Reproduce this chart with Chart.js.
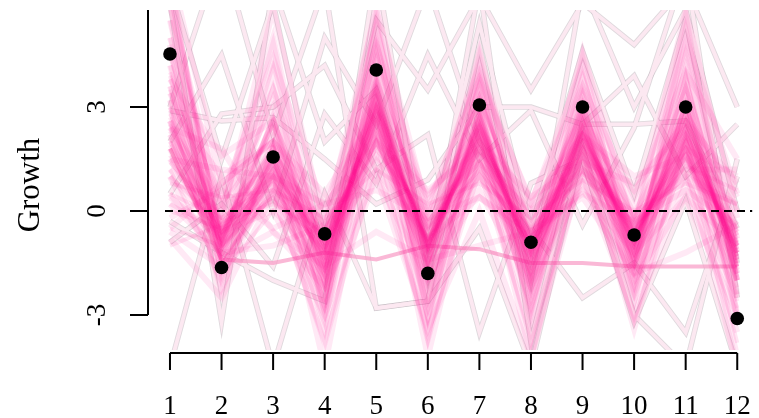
<!DOCTYPE html>
<html>
<head>
<meta charset="utf-8">
<script src="https://cdn.jsdelivr.net/npm/chart.js@4.4.0/dist/chart.umd.min.js"></script>
<style>
  html, body { margin: 0; padding: 0; background: #fff; }
  #growthChart { display: block; }
</style>
</head>
<body>
<canvas id="growthChart" width="759" height="418"></canvas>
<script>
// --- Datos del gráfico ---
const steps = [1, 2, 3, 4, 5, 6, 7, 8, 9, 10, 11, 12];
const xTickLabels = ['1', '2', '3', '4', '5', '6', '7', '8', '9', '10', '11', '12'];
const yTickValues = [-3, 0, 3];
const yTickLabels = ['-3', '0', '3'];
const yAxisTitle = 'Growth';

// Puntos observados (negros)
const observed = [4.53, -1.63, 1.56, -0.66, 4.07, -1.80, 3.06, -0.90, 3.00, -0.69, 3.00, -3.10];

// Trayectorias simuladas que forman el núcleo oscuro de la banda
const coreDraws = [
    [2.5, -0.8, 1.2, -1.5, 3.0, -1.0, 2.4, -1.2, 2.2, -0.9, 2.5, -1.4],
    [1.8, -0.6, 1.5, -1.0, 2.8, -0.8, 2.0, -1.0, 2.6, -0.7, 2.0, -1.2],
    [3.5, -1.0, 0.8, -2.0, 3.4, -1.5, 2.8, -1.6, 2.4, -1.2, 3.0, -1.6],
    [1.0, -0.4, 1.8, -0.8, 2.4, -0.6, 1.8, -0.8, 1.8, -0.5, 1.6, -0.8],
    [4.5, -1.2, 1.0, -2.6, 4.0, -1.8, 3.0, -1.9, 2.8, -1.4, 3.4, -2.0],
    [0.5, -0.2, 1.0, -0.5, 1.8, -0.3, 1.4, -0.5, 1.3, -0.4, 1.2, -0.5],
    [6.5, -0.9, 2.0, -1.8, 3.6, -1.2, 2.6, -1.4, 2.4, -1.0, 2.8, -1.5],
    [2.2, -1.4, 0.6, -1.2, 2.6, -2.2, 1.8, -1.2, 2.0, -1.6, 2.2, -1.0],
    [3.0, -0.7, 2.5, -3.0, 4.6, -1.1, 3.4, -1.0, 3.0, -0.8, 3.6, -2.2],
    [0.0, -0.5, 0.4, -1.1, 2.0, -0.9, 1.6, -1.6, 1.6, -1.1, 1.8, -1.3],
    [5.5, -1.6, 1.4, -1.6, 3.2, -2.6, 2.2, -2.4, 2.2, -1.8, 2.4, -2.8],
    [1.5, -0.9, 3.3, -2.2, 5.5, -1.4, 4.0, -1.3, 3.6, -1.0, 4.2, -1.6],
    [2.8, -0.3, 0.2, -0.6, 2.2, -0.5, 1.2, -0.9, 1.5, -0.6, 1.4, -0.9],
    [7.0, -2.0, 1.6, -3.5, 3.8, -3.2, 2.4, -3.0, 2.6, -2.4, 3.2, -3.2],
    [-0.5, -1.0, 1.2, -0.9, 2.6, -0.7, 2.2, -0.7, 2.0, -0.6, 1.8, -0.6],
    [3.8, -0.5, 1.8, -1.4, 3.0, -0.4, 2.8, -1.8, 2.2, -0.5, 2.6, -1.2],
    [2.0, -1.1, 0.9, -2.8, 2.2, -1.6, 1.4, -1.1, 1.2, -1.3, 1.6, -1.8],
    [4.0, 0.2, 2.2, -1.0, 3.8, -0.2, 3.2, -0.4, 2.8, -0.2, 3.0, -0.4],
    [1.2, -1.8, 0.0, -1.7, 2.8, -1.9, 2.0, -2.0, 2.4, -2.0, 2.0, -2.4],
    [6.2, -0.8, 4.2, -1.2, 4.8, -1.0, 3.6, -1.2, 3.4, -1.2, 4.6, -1.0],
    [2.4, -0.6, 1.0, -1.9, 2.6, -1.3, 2.5, -1.5, 1.9, -0.9, 2.3, -1.5],
    [3.2, -1.3, 1.3, -1.3, 3.3, -1.1, 2.1, -1.3, 2.5, -1.4, 2.7, -1.1],
    [0.8, 0.4, 0.6, -0.2, 1.2, 0.2, 0.8, -0.2, 0.9, 0.0, 0.8, 0.2],
    [5.0, -1.5, 2.8, -2.4, 3.6, -2.8, 3.0, -2.6, 2.0, -1.6, 2.6, -2.6],
    [1.6, -0.8, 2.0, -1.6, 3.0, -1.0, 2.3, -0.9, 2.3, -1.0, 2.2, -0.7],
    [2.6, -1.0, 0.4, -3.8, 2.0, -3.8, 1.6, -3.8, 1.4, -3.2, 2.0, -3.8],
    [3.4, -0.6, 1.6, -1.1, 2.9, -0.9, 2.6, -1.1, 2.3, -0.8, 2.4, -1.3],
    [1.4, -0.2, 0.8, -0.8, 2.0, -1.2, 1.0, -1.4, 1.6, -0.4, 1.0, -2.0],
    [4.2, -1.1, 3.6, -1.4, 5.0, -1.6, 3.8, -1.8, 4.0, -1.2, 3.8, -1.4],
    [2.1, -0.9, 1.1, -1.3, 2.7, -0.9, 2.1, -1.1, 2.1, -0.8, 2.1, -1.1],
    [2.3, -0.7, 1.4, -1.2, 2.9, -1.1, 2.3, -1.3, 2.0, -1.0, 2.4, -1.3],
    [1.9, -1.0, 1.0, -1.4, 3.1, -1.0, 2.5, -1.2, 2.2, -0.9, 2.6, -1.6],
    [2.7, -0.8, 1.3, -1.0, 2.5, -0.8, 1.9, -1.0, 1.8, -0.7, 2.0, -1.0],
    [3.6, -1.4, 0.5, -2.2, 3.5, -1.3, 2.7, -2.2, 2.6, -1.5, 3.1, -1.9],
    [-1.0, -0.4, 1.7, -0.4, 2.3, -0.5, 1.7, -0.6, 1.7, -0.3, 1.5, -0.7],
    [5.8, -0.6, 2.6, -0.9, 4.4, -0.7, 3.3, -0.8, 3.2, -0.7, 3.6, -0.9],
    [2.9, -2.4, 1.9, -2.8, 3.0, -2.4, 2.0, -2.8, 1.8, -2.2, 2.2, -1.2],
    [0.2, -0.6, 0.3, -0.9, 1.5, -0.8, 1.2, -0.9, 1.1, -0.6, 1.3, 0.6],
    [2.0, -0.5, 1.2, -1.1, 2.7, -1.0, 2.2, -1.0, 2.2, -0.9, 2.3, -1.2],
    [3.9, -1.1, 1.5, -1.7, 3.2, -1.2, 2.5, -1.4, 2.6, -1.1, 2.8, -1.6]
];

// Trayectorias más abiertas (envoltura rosa clara)
const wideDraws = [
    [5.0, 0.5, 3.5, -0.5, 5.2, -0.2, 4.0, 0.2, 4.2, 0.0, 5.0, 0.5],
    [-0.8, -2.5, 0.5, -3.8, 1.5, -3.5, 1.2, -3.5, 1.0, -3.0, 0.8, -3.5],
    [6.0, 0.0, 5.0, -1.5, 6.0, -0.8, 4.6, -1.0, 4.6, -0.5, 5.8, -0.2],
    [1.0, -2.0, 1.8, -4.5, 3.0, -4.2, 2.0, -4.2, 1.8, -3.4, 2.0, -4.2],
    [3.0, 1.0, 2.0, 0.5, 2.8, 0.4, 2.4, 0.2, 2.2, 0.6, 2.6, 0.8],
    [0.5, -1.4, -0.6, -2.2, 1.0, -2.0, 0.6, -2.2, 0.8, -1.8, 1.0, -2.5],
    [4.6, -0.2, 5.8, -0.4, 5.8, 0.0, 4.2, -0.6, 3.8, -0.4, 4.8, -0.8],
    [2.2, -0.8, 1.0, -3.2, 4.5, -3.0, 3.0, -2.8, 3.2, -2.6, 3.8, -3.0],
    [7.0, 0.8, 2.0, 0.0, 3.0, 0.5, 2.0, 0.4, 1.4, 0.8, 2.4, 0.0],
    [1.5, -1.0, 2.6, -1.2, 3.6, -3.6, 2.8, -3.0, 2.6, -1.4, 2.0, -2.0],
    [3.6, -0.4, 4.8, -2.0, 4.2, -1.4, 3.2, -1.6, 3.0, -1.8, 5.2, -1.2],
    [-0.2, 0.6, -0.5, 0.2, 0.6, -0.2, 0.4, -0.6, 0.5, -0.3, 0.6, -0.4],
    [2.6, -1.6, 0.8, -1.8, 2.2, -1.5, 1.6, -1.7, 1.6, -1.5, 1.8, -1.7],
    [5.5, -1.0, 4.0, -3.0, 5.6, -2.0, 4.4, -2.2, 4.4, -2.0, 5.6, -2.4],
    [1.2, 0.0, 1.4, -0.4, 1.6, 0.0, 1.4, 0.0, 1.2, -0.2, 1.0, 0.2],
    [3.2, -2.2, 1.2, -2.4, 2.8, -3.0, 2.2, -3.2, 1.8, -2.6, 2.0, -3.0],
    [4.8, -1.8, 1.8, -1.6, 2.4, -1.4, 3.6, -2.4, 3.4, -0.8, 3.0, -1.4],
    [0.4, -0.8, 2.4, -1.4, 3.8, -0.4, 1.8, -0.2, 2.8, -0.1, 2.8, 0.4],
    [2.4, 0.2, 3.0, -0.8, 3.2, -1.8, 2.6, -1.4, 2.0, -0.6, 1.6, -1.0],
    [6.5, -1.2, 1.0, -2.0, 4.8, -1.0, 3.0, -0.8, 2.4, -1.2, 3.8, -2.0],
    [-0.6, -1.6, 0.6, -2.6, 2.4, -2.8, 1.4, -2.0, 1.0, -2.4, 1.6, -1.8],
    [3.4, 0.4, 4.4, 0.0, 4.8, 0.2, 3.8, 0.3, 3.6, 0.4, 4.0, 1.5],
    [1.8, -1.2, 1.6, -2.4, 3.4, -2.2, 2.6, -2.0, 2.9, -1.6, 3.2, -1.8],
    [2.6, -0.4, 0.6, -0.6, 2.0, -0.4, 1.0, -0.6, 1.2, -0.4, 1.2, 1.2],
    [4.2, -0.8, 2.6, -1.8, 3.4, -1.8, 3.6, -1.0, 3.0, -1.4, 4.4, -2.0],
    [1.5, 1.2, 1.0, 0.2, 2.0, 0.6, 1.8, 0.0, 2.2, 1.0, 1.6, -0.6],
    [-0.5, 0.8, 2.0, -1.0, 1.2, -0.8, 0.4, -0.8, 0.6, -1.2, 0.4, -1.0],
    [2.4, 1.8, -0.6, -1.6, -0.6, -1.4, -1.0, -0.6, 0.4, -1.8, -1.2, -0.4],
    [0.2, -1.2, -1.0, -0.4, 3.6, -2.0, 1.0, -1.8, 2.0, -0.2, 1.8, 1.0],
    [3.8, 1.6, 2.6, -2.0, 2.0, -1.0, 2.4, -2.2, 1.6, -2.0, 0.4, -3.0],
    [1.0, -0.6, 0.0, -3.0, 1.0, -3.4, 0.0, -4.2, 1.2, -1.0, 1.4, -4.5]
];

// Trayectorias dispersas (claras, con borde gris)
const strayDraws = [
    [6.0, -3.2, 6.5, 2.0, 3.5, -1.0, 5.4, -0.5, 4.6, 0.5, 5.5, -1.5],
    [-0.9, 0.2, -1.6, 2.8, 0.8, 4.5, 1.5, 2.9, -0.4, 2.4, 7.0, -2.5],
    [3.0, 7.5, 2.2, 6.5, -2.8, -2.6, 4.8, -2.0, 6.5, 3.0, 5.8, 0.0],
    [0.5, 2.8, 3.0, 4.2, 1.2, 2.2, -3.5, 0.8, 1.5, -3.2, 0.3, -4.5],
    [-0.3, -1.2, -2.0, -2.6, 7.0, -1.8, 6.5, -3.8, 2.5, 3.9, 1.0, 2.5],
    [2.9, 2.6, 2.7, 1.5, 0.2, 0.9, 3.0, 3.0, 2.5, 2.5, 2.6, -0.5],
    [-4.5, 1.0, -4.5, 0.5, -2.8, -2.6, -0.5, -4.5, 1.8, -3.0, -4.5, 1.5],
    [6.5, 1.5, 6.0, -0.8, 5.5, 3.5, 6.2, 3.5, 6.0, 4.8, 6.5, 3.0],
    [2.0, 4.5, 0.0, 5.0, 2.5, 6.5, 2.0, -0.5, -2.5, -1.5, -3.5, 1.0]
];

// Trayectoria casi plana visible por debajo de cero
const flatDraw = [1.8, -1.4, -1.5, -1.2, -1.4, -1.0, -1.1, -1.5, -1.5, -1.6, -1.6, -1.6];

// --- Construcción de datasets ---
const toPoints = (values) => values.map((v, i) => ({ x: steps[i], y: v }));

const datasets = [];

strayDraws.forEach(draw => {
    // Borde gris debajo
    datasets.push({
        data: toPoints(draw),
        borderColor: 'rgba(190, 178, 185, 0.5)',
        borderWidth: 5.5,
        pointRadius: 0,
        clip: 0,
        order: 5
    });
    // Relleno rosa claro encima
    datasets.push({
        data: toPoints(draw),
        borderColor: 'rgb(252, 232, 241)',
        borderWidth: 3.8,
        pointRadius: 0,
        clip: 0,
        order: 4
    });
});

datasets.push({
    data: toPoints(flatDraw),
    borderColor: 'rgba(248, 160, 200, 0.75)',
    borderWidth: 4,
    pointRadius: 0,
    clip: 0,
    order: 3
});

wideDraws.forEach(draw => {
    datasets.push({
        data: toPoints(draw),
        borderColor: 'rgba(255, 20, 147, 0.095)',
        borderWidth: 6,
        pointRadius: 0,
        clip: 0,
        order: 2
    });
});

coreDraws.forEach(draw => {
    datasets.push({
        data: toPoints(draw),
        borderColor: 'rgba(255, 20, 147, 0.11)',
        borderWidth: 4,
        pointRadius: 0,
        clip: 0,
        order: 1
    });
});

datasets.push({
    data: toPoints(observed),
    showLine: false,
    pointRadius: 6.8,
    pointStyle: 'circle',
    pointBackgroundColor: '#000',
    pointBorderWidth: 0,
    clip: false,
    order: 0
});

// --- Ejes estilo R (desplazados) ---
const serif = '"Liberation Serif", "DejaVu Serif", serif';

const rAxesPlugin = {
    id: 'rAxes',
    afterDatasetsDraw(chart) {
        const { ctx, chartArea, scales: { x, y } } = chart;
        ctx.save();
        ctx.strokeStyle = '#000';
        ctx.fillStyle = '#000';

        // Línea discontinua en cero
        const y0 = y.getPixelForValue(0);
        ctx.lineWidth = 2;
        ctx.setLineDash([8, 5]);
        ctx.beginPath();
        ctx.moveTo(chartArea.left, y0);
        ctx.lineTo(chartArea.right, y0);
        ctx.stroke();
        ctx.setLineDash([]);

        // Eje X
        const axisY = chartArea.bottom + 3;
        const firstX = x.getPixelForValue(steps[0]);
        const lastX = x.getPixelForValue(steps[steps.length - 1]);
        ctx.beginPath();
        ctx.moveTo(firstX, axisY);
        ctx.lineTo(lastX, axisY);
        steps.forEach(s => {
            const px = x.getPixelForValue(s);
            ctx.moveTo(px, axisY);
            ctx.lineTo(px, axisY + 17);
        });
        ctx.stroke();

        ctx.font = '27px ' + serif;
        ctx.textAlign = 'center';
        ctx.textBaseline = 'alphabetic';
        steps.forEach((s, i) => {
            ctx.fillText(xTickLabels[i], x.getPixelForValue(s), axisY + 61);
        });

        // Eje Y
        const axisX = chartArea.left - 17;
        ctx.beginPath();
        ctx.moveTo(axisX, chartArea.top);
        ctx.lineTo(axisX, y.getPixelForValue(yTickValues[0]));
        yTickValues.forEach(v => {
            const py = y.getPixelForValue(v);
            ctx.moveTo(axisX, py);
            ctx.lineTo(axisX - 18, py);
        });
        ctx.stroke();

        ctx.textBaseline = 'middle';
        yTickValues.forEach((v, i) => {
            ctx.save();
            ctx.translate(axisX - 50, y.getPixelForValue(v));
            ctx.rotate(-Math.PI / 2);
            ctx.fillText(yTickLabels[i], 0, 0);
            ctx.restore();
        });

        // Título del eje Y
        ctx.font = '31px ' + serif;
        ctx.save();
        ctx.translate(31, (chartArea.top + chartArea.bottom) / 2 + 5);
        ctx.rotate(-Math.PI / 2);
        ctx.fillText(yAxisTitle, 0, 0);
        ctx.restore();

        ctx.restore();
    }
};

new Chart(document.getElementById('growthChart'), {
    type: 'line',
    data: { datasets },
    options: {
        responsive: false,
        animation: false,
        events: [],
        layout: { padding: { left: 165, right: 4, top: 10, bottom: 68 } },
        elements: { line: { tension: 0, fill: false } },
        plugins: {
            legend: { display: false },
            tooltip: { enabled: false }
        },
        scales: {
            x: { type: 'linear', min: 0.9035, max: 12.29, display: false },
            y: { type: 'linear', min: -4.01, max: 5.8, display: false }
        }
    },
    plugins: [rAxesPlugin]
});
</script>
</body>
</html>
